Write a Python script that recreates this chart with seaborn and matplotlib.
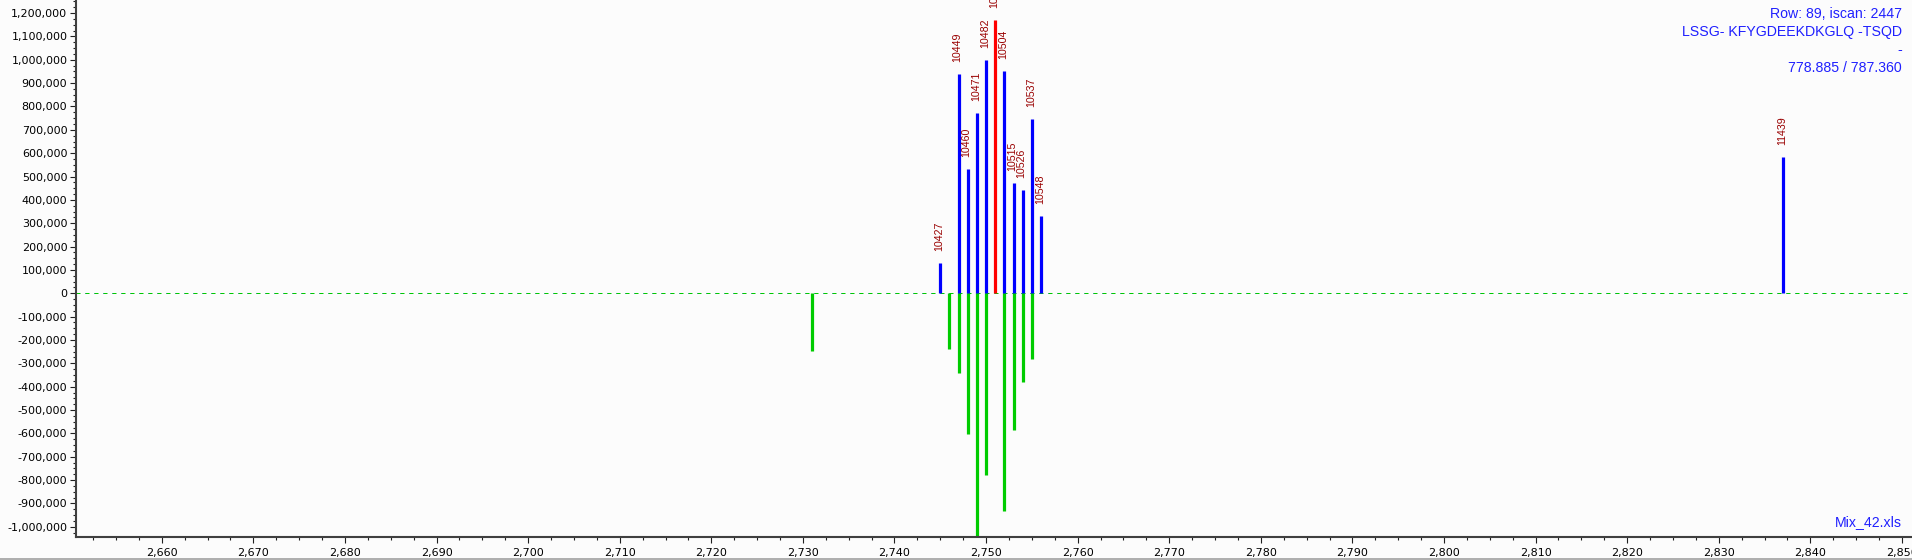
import numpy as np
import pandas as pd
import matplotlib
matplotlib.use("Agg")
import matplotlib.pyplot as plt
import seaborn as sns
from matplotlib.ticker import MultipleLocator, FuncFormatter
from matplotlib.lines import Line2D


# ------------------------------------------------------------
# Data
# ------------------------------------------------------------
top_x = [2745, 2747, 2748, 2749, 2750, 2751, 2752, 2753, 2754, 2755, 2756, 2837]
top_y = [131000, 941000, 534000, 774000, 1001000, 1169000, 951000,
         472000, 444000, 745000, 330000, 585000]
top_labels = ["10427", "10449", "10460", "10471", "10482", "10493", "10504",
              "10515", "10526", "10537", "10548", "11439"]
top_kind = ["obs"] * 5 + ["sel"] + ["obs"] * 6

bottom_x = [2731, 2746, 2747, 2748, 2749, 2750, 2752, 2753, 2754, 2755]
bottom_y = [-247000, -240000, -341000, -604000, -1060000, -779000,
            -932000, -587000, -380000, -283000]

info_lines = ["Row: 89, iscan: 2447", "LSSG- KFYGDEEKDKGLQ -TSQD", "-",
              "778.885 / 787.360"]
file_name = "Mix_42.xls"

top_df = pd.DataFrame({"x": top_x, "y": top_y, "label": top_labels, "kind": top_kind})
bottom_df = pd.DataFrame({"x": bottom_x, "y": bottom_y})

palette = {"obs": "#0000ff", "sel": "#ff0000", "ref": "#00cc00"}


# ------------------------------------------------------------
# Figure
# ------------------------------------------------------------
sns.set_theme(style="white")
plt.rcParams["font.family"] = ["DejaVu Sans"]

fig = plt.figure(figsize=(19.12, 5.6), dpi=100, facecolor="#fcfcfc")
ax = fig.add_axes([75.7 / 1912, 22.7 / 560, 1 - 75.7 / 1912, 1 - 22.7 / 560])
ax.set_facecolor("#fcfcfc")

# zero line
ax.axhline(0, color="#0000ff", lw=0.72, dashes=(1, 8), zorder=1)
ax.axhline(0, color="#00cc00", lw=0.72, dashes=(4, 5), zorder=1)

# sticks
ax.vlines(bottom_df["x"], 0, bottom_df["y"], colors=palette["ref"], lw=2.3, zorder=2)
ax.vlines(top_df["x"], 0, top_df["y"], colors=top_df["kind"].map(palette), lw=2.3, zorder=3)

for _, r in top_df.iterrows():
    ax.annotate(r["label"], (r["x"], r["y"]), xytext=(-0.8, 8.6),
                textcoords="offset points", rotation=90, ha="center", va="bottom",
                color="#990000", fontsize=7.7, family="Liberation Sans",
                annotation_clip=False)

ax.set_xlim(2650.6, 2851.1)
ax.set_ylim(-1045000, 1256000)

ax.xaxis.set_major_locator(MultipleLocator(10))
ax.xaxis.set_minor_locator(MultipleLocator(2.5))
ax.yaxis.set_major_locator(MultipleLocator(100000))
ax.yaxis.set_minor_locator(MultipleLocator(25000))
fmt = FuncFormatter(lambda v, p: f"{v:,.0f}")
ax.xaxis.set_major_formatter(fmt)
ax.yaxis.set_major_formatter(fmt)

for side in ["top", "right"]:
    ax.spines[side].set_visible(False)
for side in ["left", "bottom"]:
    ax.spines[side].set_color("#404040")
    ax.spines[side].set_linewidth(1.5)

ax.tick_params(axis="both", which="major", direction="out", length=4, width=0.8,
               color="#202020", labelsize=8, labelcolor="#000000", pad=2,
               left=True, bottom=True)
ax.tick_params(axis="both", which="minor", direction="out", length=2.2, width=0.8,
               color="#202020", left=True, bottom=True)
ax.tick_params(axis="x", which="major", pad=4)
ax.grid(False)

# annotations
for i, line in enumerate(info_lines):
    fig.text(1902 / 1912, 1 - (14 + 18 * i) / 560, line, ha="right", va="center",
             color="#2020ff", fontsize=10.2, family="Liberation Sans")
fig.text(1902 / 1912, 1 - 521.7 / 560, file_name, ha="right", va="center",
         color="#2020ff", fontsize=10.2, family="Liberation Sans")

# bottom frame line
fig.add_artist(Line2D([0, 1], [0.7 / 560, 0.7 / 560], transform=fig.transFigure,
                      color="#a0a0a0", lw=1.2))

fig.savefig("out.png", dpi=100, facecolor=fig.get_facecolor())
